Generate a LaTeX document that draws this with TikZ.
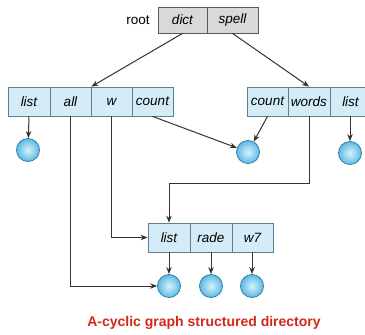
\documentclass[tikz,border=0pt]{standalone}
\usepackage{fontspec}
\setmainfont{Liberation Sans}
\usetikzlibrary{arrows.meta}
\definecolor{cellfill}{HTML}{D4ECF7}
\definecolor{cellborder}{HTML}{5F7F8E}
\definecolor{rootfill}{HTML}{D9D9D9}
\definecolor{rootborder}{HTML}{5A5A5A}
\definecolor{ballin}{HTML}{D8F2FD}
\definecolor{ballout}{HTML}{5DB9E4}
\definecolor{ballborder}{HTML}{2F7FAA}
\definecolor{linecol}{HTML}{333333}
\definecolor{captionred}{HTML}{D0281A}
\begin{document}
\begin{tikzpicture}[x=1pt,y=-1pt,
  labelfont/.style={font=\fontsize{13.5}{14}\selectfont},
  cell/.style={draw=cellborder, fill=cellfill, line width=0.8pt, minimum height=29pt, inner sep=0pt, labelfont, font=\itshape\fontsize{13.5}{14}\selectfont},
  rootcell/.style={cell, draw=rootborder, fill=rootfill, minimum height=26pt},
  leaf/.style={circle, draw=ballborder, line width=0.8pt, minimum size=23pt, inner sep=0pt, inner color=ballin, outer color=ballout},
  arr/.style={draw=linecol, line width=1pt, -{Stealth[length=7pt,width=5.5pt]}},
  ln/.style={draw=linecol, line width=1pt}]
\useasboundingbox (0,0) rectangle (365,335);
% root
\node[labelfont] (rootlbl) at (138,20) {root};
\node[rootcell, minimum width=49pt] (dict) at (182.5,20) {dict};
\node[rootcell, minimum width=51pt] (spell) at (232.5,20) {spell};
% left directory
\node[cell, minimum width=42pt] (llist) at (29,101.5) {list};
\node[cell, minimum width=41pt] (lall) at (70.5,101.5) {all};
\node[cell, minimum width=41pt] (lw) at (111.5,101.5) {w};
\node[cell, minimum width=41pt] (lcount) at (152.5,101.5) {count};
% right directory
\node[cell, minimum width=41pt] (rcount) at (267.5,101.5) {count};
\node[cell, minimum width=42pt] (rwords) at (309,101.5) {words};
\node[cell, minimum width=41pt] (rlist) at (350.5,101.5) {list};
% bottom directory
\node[cell, minimum width=42pt] (blist) at (169,237.5) {list};
\node[cell, minimum width=42pt] (brade) at (211,237.5) {rade};
\node[cell, minimum width=41pt] (bw) at (252.5,237.5) {w7};
% files
\node[leaf] (f1) at (28,150) {};
\node[leaf] (fc) at (248,152) {};
\node[leaf] (f2) at (350,153) {};
\node[leaf] (b1) at (169,286) {};
\node[leaf] (b2) at (211,286) {};
\node[leaf] (b3) at (252,286) {};
% connectors
\draw[arr] (dict.south) -- (lall.north east);
\draw[arr] (spell.south) -- (rwords.north);
\draw[arr] (llist.south) -- (f1);
\draw[arr] (rlist.south -| f2) -- (f2);
\draw[arr] (lcount.south) -- (fc);
\draw[arr] (rcount.south) -- (fc);
\draw[arr] (rwords.south) -- ++(0,67) -| (blist.north);
\draw[arr] (lw.south) |- (blist.west);
\draw[arr] (lall.south) |- (b1.west);
\draw[arr] (blist.south) -- (b1);
\draw[arr] (brade.south) -- (b2);
\draw[arr] (bw.south -| b3) -- (b3);
% caption
\node[font=\bfseries\fontsize{14}{16}\selectfont, text=captionred] (cap) at (204,323) {A-cyclic graph structured directory};
\end{tikzpicture}
\end{document}
